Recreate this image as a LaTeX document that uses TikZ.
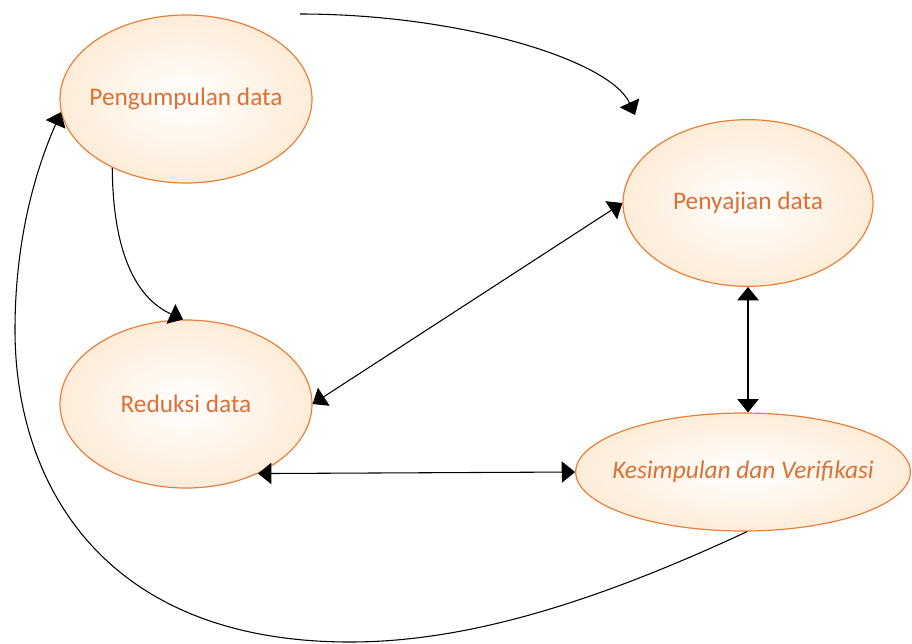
\documentclass[tikz,border=0pt]{standalone}
\usepackage{fontspec}
\setmainfont{Carlito}
\usetikzlibrary{shapes.geometric,arrows.meta}
\definecolor{garis}{RGB}{232,128,58}
\definecolor{teks}{RGB}{222,112,52}
\definecolor{isi}{RGB}{254,236,216}
\tikzset{tahap/.style={ellipse,draw=garis,line width=0.9pt,inner color=white,outer color=isi,inner sep=0pt},
	judul/.style={text=teks,font=\fontsize{19}{22}\selectfont}}
\begin{document}
\begin{tikzpicture}[x=0.75pt,y=-0.75pt,>={Triangle[length=10pt,width=16pt]},line join=round,line width=0.8pt]
	\useasboundingbox (0,0) rectangle (912,643);
	%Tahap
	\node[tahap,minimum width=189pt,minimum height=126pt,label={[judul]center:Pengumpulan data}] (peng) at (186,99) {};
	\node[tahap,minimum width=187.5pt,minimum height=125pt,label={[judul]center:Penyajian data}] (saji) at (748,203) {};
	\node[tahap,minimum width=189pt,minimum height=126pt,label={[judul]center:Reduksi data}] (red) at (186,404) {};
	\node[tahap,minimum width=251pt,minimum height=88.5pt,label={[judul,font=\fontsize{19}{22}\selectfont\itshape]center:Kesimpulan dan Verifikasi}] (kes) at (743,472) {};
	%Panah atas
	\coordinate (atasA) at (300,14);
	\coordinate (atasB) at (635,115);
	\draw[->] (atasA) .. controls (460,14) and (610,60) .. (atasB);
	%Panah antar tahap
	\draw[->] (peng.223) .. controls (113,260) and (140,300) .. (red.92);
	\draw[<->] (saji.west) -- (red.east);
	\draw[<->] (saji.south) -- (saji.south |- kes.north);
	\draw[<->] (red.-44) -- (kes.west);
	%Panah bawah
	\draw[->] (kes.-86) .. controls (600,600) and (470,642) .. (350,642) .. controls (100,642) and (15,480) .. (15,330) .. controls (15,230) and (40,160) .. (peng.186);
\end{tikzpicture}
\end{document}
